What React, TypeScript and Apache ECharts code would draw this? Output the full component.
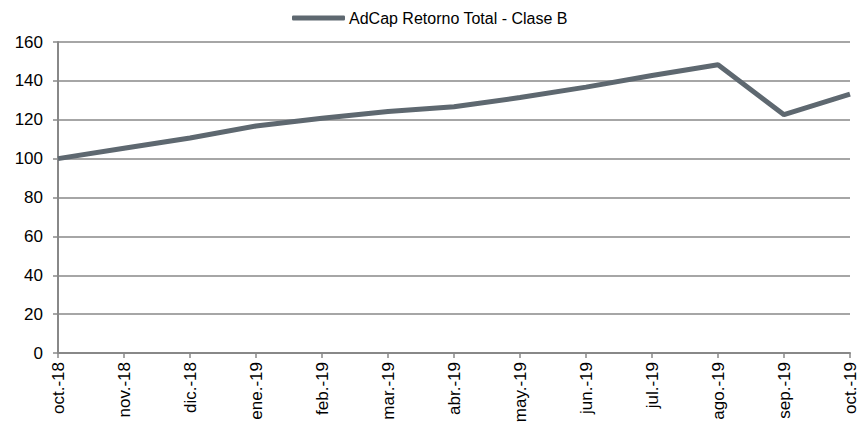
import React, { useEffect, useRef } from "react";
import * as echarts from "echarts";

const categories = ["oct.-18", "nov.-18", "dic.-18", "ene.-19", "feb.-19", "mar.-19", "abr.-19", "may.-19", "jun.-19", "jul.-19", "ago.-19", "sep.-19", "oct.-19"];
const seriesName = "AdCap Retorno Total - Clase B";
const values = [100, 105.3, 110.6, 116.8, 120.8, 124.2, 126.7, 131.4, 136.8, 142.8, 148.3, 122.6, 133.2];

export default function App() {
  const ref = useRef<HTMLDivElement>(null);
  useEffect(() => {
    const chart = echarts.init(ref.current!, null, { renderer: "svg" });
    const font = "'Liberation Sans', Arial, sans-serif";
    chart.setOption({
      animation: false,
      textStyle: { fontFamily: font },
      legend: {
        top: 5,
        left: 287,
        data: [{ name: seriesName, icon: "roundRect" }],
        itemWidth: 53,
        itemHeight: 5,
        itemGap: 4,
        textStyle: { fontSize: 16, color: "#000", fontFamily: font, padding: [0, 0, 0, -1] },
      },
      grid: { left: 58, right: 17, top: 42, bottom: 74, containLabel: false },
      xAxis: {
        type: "category",
        data: categories,
        boundaryGap: false,
        axisLine: { lineStyle: { color: "#888", width: 2 } },
        axisTick: { show: true, alignWithLabel: true, length: 5, lineStyle: { color: "#888", width: 1.5 } },
        axisLabel: { rotate: 90, fontSize: 17, color: "#000", margin: 9, interval: 0, fontFamily: font },
        splitLine: { show: false },
      },
      yAxis: {
        type: "value",
        min: 0,
        max: 160,
        interval: 20,
        axisLine: { show: true, lineStyle: { color: "#888", width: 2 } },
        axisTick: { show: true, length: 5, lineStyle: { color: "#888", width: 1.5 } },
        axisLabel: { fontSize: 17, color: "#000", margin: 15, fontFamily: font },
        splitLine: { lineStyle: { color: "#888", width: 1.5 } },
      },
      series: [
        {
          name: seriesName,
          type: "line",
          data: values,
          showSymbol: false,
          symbol: "none",
          lineStyle: { color: "#5e6870", width: 5 },
          itemStyle: { color: "#5e6870" },
        },
      ],
    });
    return () => chart.dispose();
  }, []);
  return <div ref={ref} style={{ width: 867, height: 427, position: "absolute", left: 0, top: 0 }} />;
}
